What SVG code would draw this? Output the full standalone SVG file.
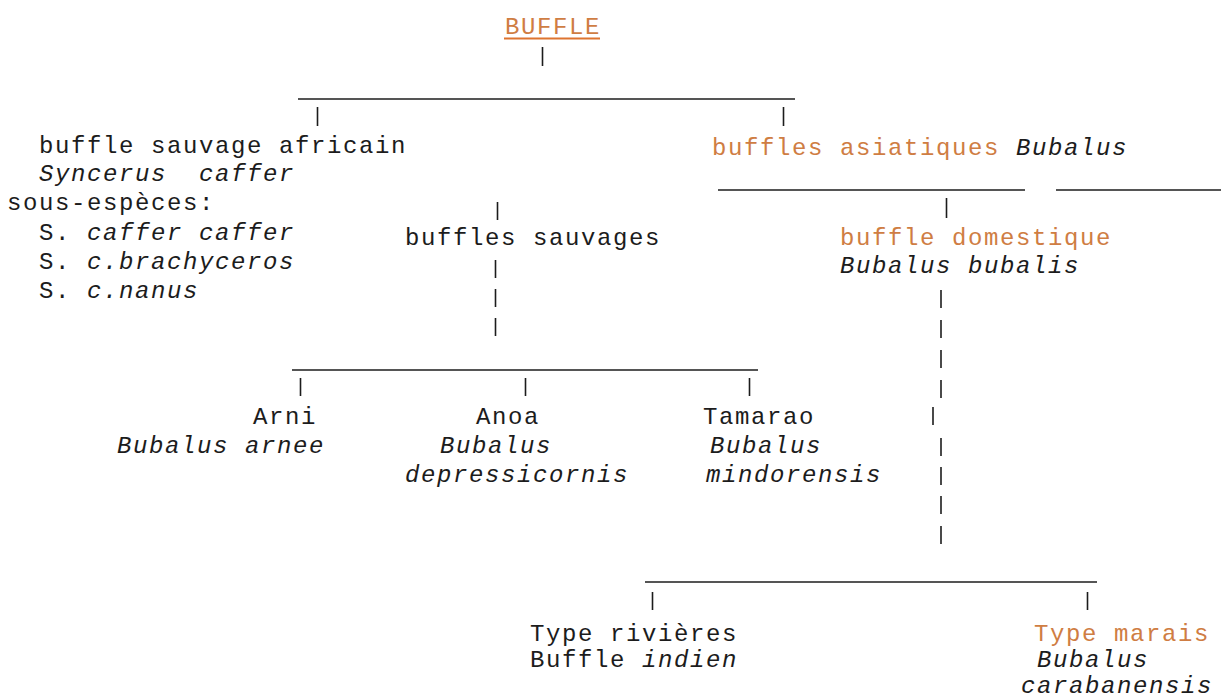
<svg xmlns="http://www.w3.org/2000/svg" width="1221" height="700" viewBox="0 0 1221 700">
<style>
text{font-family:"Liberation Mono","Courier New",monospace;font-size:24px;letter-spacing:1.6px;fill:#1c1c1c}
.o{fill:#cf7d43}
.i{font-style:italic}
.c line{stroke:#1c1c1c;stroke-width:1.6}
</style>
<rect width="1221" height="700" fill="#fff"/>
<g id="n-buffle">
<text class="o" x="505" y="34">BUFFLE</text>
<line x1="504" y1="38.5" x2="600" y2="38.5" stroke="#de7430" stroke-width="2"/>
</g>
<g id="n-africain">
<text x="39" y="153">buffle sauvage africain</text>
<text class="i" x="39" y="181">Syncerus</text>
<text class="i" x="199" y="181">caffer</text>
<text x="7" y="210">sous-espèces:</text>
<text x="39" y="240">S. <tspan class="i">caffer caffer</tspan></text>
<text x="39" y="269">S. <tspan class="i">c.brachyceros</tspan></text>
<text x="39" y="298">S. <tspan class="i">c.nanus</tspan></text>
</g>
<g id="n-asiatiques">
<text x="712" y="155"><tspan class="o">buffles asiatiques </tspan><tspan class="i">Bubalus</tspan></text>
</g>
<g id="n-sauvages">
<text x="405" y="245">buffles sauvages</text>
</g>
<g id="n-domestique">
<text class="o" x="840" y="245">buffle domestique</text>
<text class="i" x="840" y="273">Bubalus bubalis</text>
</g>
<g id="n-arni">
<text x="253" y="424">Arni</text>
<text class="i" x="117" y="453">Bubalus arnee</text>
</g>
<g id="n-anoa">
<text x="476" y="424">Anoa</text>
<text class="i" x="440" y="453">Bubalus</text>
<text class="i" x="405" y="482">depressicornis</text>
</g>
<g id="n-tamarao">
<text x="703" y="424">Tamarao</text>
<text class="i" x="710" y="453">Bubalus</text>
<text class="i" x="706" y="482">mindorensis</text>
</g>
<g id="n-rivieres">
<text x="530" y="641">Type rivières</text>
<text x="530" y="667">Buffle <tspan class="i">indien</tspan></text>
</g>
<g id="n-marais">
<text class="o" x="1034" y="641">Type marais</text>
<text class="i" x="1037" y="667">Bubalus</text>
<text class="i" x="1021" y="693">carabanensis</text>
</g>
<g id="connectors" class="c">
<line x1="542.5" y1="47" x2="542.5" y2="66"/>
<line x1="298" y1="99" x2="795" y2="99"/>
<line x1="317.5" y1="107" x2="317.5" y2="126"/>
<line x1="783.5" y1="107" x2="783.5" y2="126"/>
<line x1="718" y1="190" x2="1025" y2="190"/>
<line x1="1056" y1="190" x2="1221" y2="190"/>
<line x1="946.5" y1="198" x2="946.5" y2="218"/>
<line x1="497.5" y1="202" x2="497.5" y2="220"/>
<line x1="495.5" y1="260" x2="495.5" y2="278"/>
<line x1="495.5" y1="289" x2="495.5" y2="307"/>
<line x1="495.5" y1="318" x2="495.5" y2="336"/>
<line x1="292" y1="370" x2="758" y2="370"/>
<line x1="300.5" y1="378" x2="300.5" y2="396"/>
<line x1="525.5" y1="378" x2="525.5" y2="396"/>
<line x1="749.5" y1="378" x2="749.5" y2="396"/>
<line x1="941" y1="290" x2="941" y2="308"/>
<line x1="941" y1="320" x2="941" y2="338"/>
<line x1="941" y1="350" x2="941" y2="368"/>
<line x1="941" y1="380" x2="941" y2="398"/>
<line x1="933" y1="407" x2="933" y2="425"/>
<line x1="941" y1="438" x2="941" y2="456"/>
<line x1="941" y1="467" x2="941" y2="485"/>
<line x1="941" y1="496" x2="941" y2="514"/>
<line x1="941" y1="526" x2="941" y2="544"/>
<line x1="645" y1="582" x2="1097" y2="582"/>
<line x1="652.5" y1="592" x2="652.5" y2="610"/>
<line x1="1087.5" y1="592" x2="1087.5" y2="610"/>
</g>
</svg>
